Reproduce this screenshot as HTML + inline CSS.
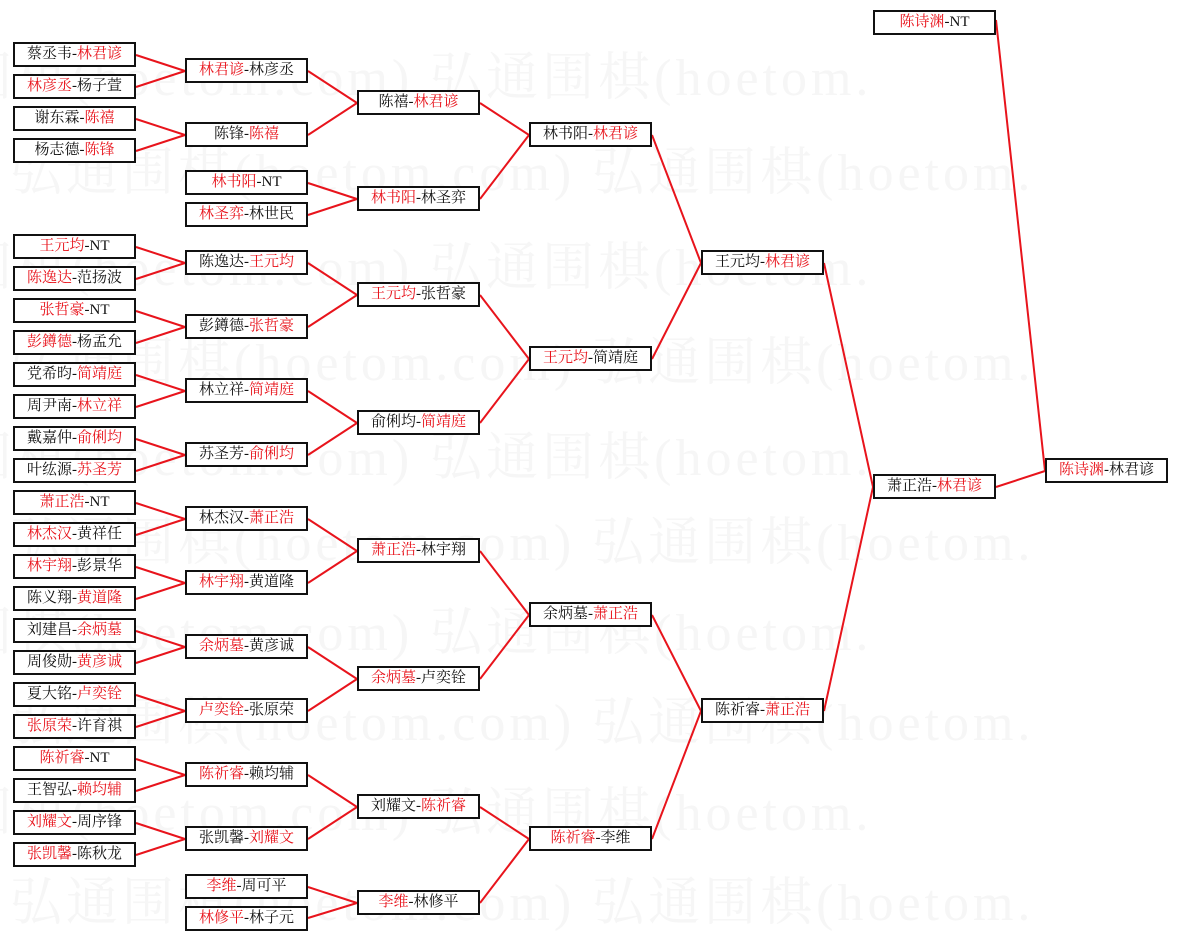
<!DOCTYPE html>
<html><head><meta charset="utf-8"><style>
body{margin:0;width:1177px;height:941px;background:#fff;position:relative;overflow:hidden;font-family:"Liberation Serif","Noto Serif CJK SC",serif;}
.b{position:absolute;width:119px;height:21px;border:2px solid #111;background:#fff;font-size:15px;line-height:21px;text-align:center;color:#111;white-space:nowrap;z-index:2}
.r{color:#e8141c}
.c1{left:13px}.c2{left:185px}.c3{left:357px}.c4{left:529px}.c5{left:701px}.c6{left:873px}.c7{left:1045px}
svg{position:absolute;left:0;top:0;z-index:1}
.wm{position:absolute;left:0;font-size:52px;color:#f6f6f6;white-space:nowrap;z-index:0;letter-spacing:4px}
</style></head><body>
<div class="wm" style="top:35px;left:-40px">围棋(hoetom.com) 弘通围棋(hoetom.</div>
<div class="wm" style="top:130px;left:10px">弘通围棋(hoetom.com) 弘通围棋(hoetom.</div>
<div class="wm" style="top:225px;left:-40px">围棋(hoetom.com) 弘通围棋(hoetom.</div>
<div class="wm" style="top:320px;left:10px">弘通围棋(hoetom.com) 弘通围棋(hoetom.</div>
<div class="wm" style="top:415px;left:-40px">围棋(hoetom.com) 弘通围棋(hoetom.</div>
<div class="wm" style="top:500px;left:10px">弘通围棋(hoetom.com) 弘通围棋(hoetom.</div>
<div class="wm" style="top:590px;left:-40px">围棋(hoetom.com) 弘通围棋(hoetom.</div>
<div class="wm" style="top:680px;left:10px">弘通围棋(hoetom.com) 弘通围棋(hoetom.</div>
<div class="wm" style="top:770px;left:-40px">围棋(hoetom.com) 弘通围棋(hoetom.</div>
<div class="wm" style="top:860px;left:10px">弘通围棋(hoetom.com) 弘通围棋(hoetom.</div>
<svg width="1177" height="941" stroke="#e8141c" stroke-width="2" fill="none">
<path d="M136 55L185 71M136 87L185 71M136 119L185 135M136 151L185 135
M136 247L185 263M136 279L185 263M136 311L185 327M136 343L185 327
M136 375L185 391M136 407L185 391M136 439L185 455M136 471L185 455
M136 503L185 519M136 535L185 519M136 567L185 583M136 599L185 583
M136 631L185 647M136 663L185 647M136 695L185 711M136 727L185 711
M136 759L185 775M136 791L185 775M136 823L185 839M136 855L185 839
M308 71L357 103M308 135L357 103M308 183L357 199M308 215L357 199
M308 263L357 295M308 327L357 295M308 391L357 423M308 455L357 423
M308 519L357 551M308 583L357 551M308 647L357 679M308 711L357 679
M308 775L357 807M308 839L357 807M308 887L357 903M308 918L357 903
M480 103L529 135M480 199L529 135M480 295L529 359M480 423L529 359
M480 551L529 615M480 679L529 615M480 807L529 839M480 903L529 839
M652 135L701 263M652 359L701 263M652 615L701 711M652 839L701 711
M824 263L873 487M824 711L873 487
M996 487L1045 471M996 20L1045 471"/>
</svg>
<div class="b c1" style="top:42px">蔡丞韦-<span class="r">林君谚</span></div>
<div class="b c1" style="top:74px"><span class="r">林彦丞</span>-杨子萱</div>
<div class="b c1" style="top:106px">谢东霖-<span class="r">陈禧</span></div>
<div class="b c1" style="top:138px">杨志德-<span class="r">陈锋</span></div>
<div class="b c1" style="top:234px"><span class="r">王元均</span>-NT</div>
<div class="b c1" style="top:266px"><span class="r">陈逸达</span>-范扬波</div>
<div class="b c1" style="top:298px"><span class="r">张哲豪</span>-NT</div>
<div class="b c1" style="top:330px"><span class="r">彭鐏德</span>-杨孟允</div>
<div class="b c1" style="top:362px">党希昀-<span class="r">简靖庭</span></div>
<div class="b c1" style="top:394px">周尹南-<span class="r">林立祥</span></div>
<div class="b c1" style="top:426px">戴嘉仲-<span class="r">俞俐均</span></div>
<div class="b c1" style="top:458px">叶纮源-<span class="r">苏圣芳</span></div>
<div class="b c1" style="top:490px"><span class="r">萧正浩</span>-NT</div>
<div class="b c1" style="top:522px"><span class="r">林杰汉</span>-黄祥任</div>
<div class="b c1" style="top:554px"><span class="r">林宇翔</span>-彭景华</div>
<div class="b c1" style="top:586px">陈义翔-<span class="r">黄道隆</span></div>
<div class="b c1" style="top:618px">刘建昌-<span class="r">余炳墓</span></div>
<div class="b c1" style="top:650px">周俊勋-<span class="r">黄彦诚</span></div>
<div class="b c1" style="top:682px">夏大铭-<span class="r">卢奕铨</span></div>
<div class="b c1" style="top:714px"><span class="r">张原荣</span>-许育祺</div>
<div class="b c1" style="top:746px"><span class="r">陈祈睿</span>-NT</div>
<div class="b c1" style="top:778px">王智弘-<span class="r">赖均辅</span></div>
<div class="b c1" style="top:810px"><span class="r">刘耀文</span>-周序锋</div>
<div class="b c1" style="top:842px"><span class="r">张凯馨</span>-陈秋龙</div>

<div class="b c2" style="top:58px"><span class="r">林君谚</span>-林彦丞</div>
<div class="b c2" style="top:122px">陈锋-<span class="r">陈禧</span></div>
<div class="b c2" style="top:170px"><span class="r">林书阳</span>-NT</div>
<div class="b c2" style="top:202px"><span class="r">林圣弈</span>-林世民</div>
<div class="b c2" style="top:250px">陈逸达-<span class="r">王元均</span></div>
<div class="b c2" style="top:314px">彭鐏德-<span class="r">张哲豪</span></div>
<div class="b c2" style="top:378px">林立祥-<span class="r">简靖庭</span></div>
<div class="b c2" style="top:442px">苏圣芳-<span class="r">俞俐均</span></div>
<div class="b c2" style="top:506px">林杰汉-<span class="r">萧正浩</span></div>
<div class="b c2" style="top:570px"><span class="r">林宇翔</span>-黄道隆</div>
<div class="b c2" style="top:634px"><span class="r">余炳墓</span>-黄彦诚</div>
<div class="b c2" style="top:698px"><span class="r">卢奕铨</span>-张原荣</div>
<div class="b c2" style="top:762px"><span class="r">陈祈睿</span>-赖均辅</div>
<div class="b c2" style="top:826px">张凯馨-<span class="r">刘耀文</span></div>
<div class="b c2" style="top:874px"><span class="r">李维</span>-周可平</div>
<div class="b c2" style="top:906px"><span class="r">林修平</span>-林子元</div>

<div class="b c3" style="top:90px">陈禧-<span class="r">林君谚</span></div>
<div class="b c3" style="top:186px"><span class="r">林书阳</span>-林圣弈</div>
<div class="b c3" style="top:282px"><span class="r">王元均</span>-张哲豪</div>
<div class="b c3" style="top:410px">俞俐均-<span class="r">简靖庭</span></div>
<div class="b c3" style="top:538px"><span class="r">萧正浩</span>-林宇翔</div>
<div class="b c3" style="top:666px"><span class="r">余炳墓</span>-卢奕铨</div>
<div class="b c3" style="top:794px">刘耀文-<span class="r">陈祈睿</span></div>
<div class="b c3" style="top:890px"><span class="r">李维</span>-林修平</div>

<div class="b c4" style="top:122px">林书阳-<span class="r">林君谚</span></div>
<div class="b c4" style="top:346px"><span class="r">王元均</span>-简靖庭</div>
<div class="b c4" style="top:602px">余炳墓-<span class="r">萧正浩</span></div>
<div class="b c4" style="top:826px"><span class="r">陈祈睿</span>-李维</div>

<div class="b c5" style="top:250px">王元均-<span class="r">林君谚</span></div>
<div class="b c5" style="top:698px">陈祈睿-<span class="r">萧正浩</span></div>

<div class="b c6" style="top:10px"><span class="r">陈诗渊</span>-NT</div>
<div class="b c6" style="top:474px">萧正浩-<span class="r">林君谚</span></div>
<div class="b c7" style="top:458px"><span class="r">陈诗渊</span>-林君谚</div>
</body></html>
